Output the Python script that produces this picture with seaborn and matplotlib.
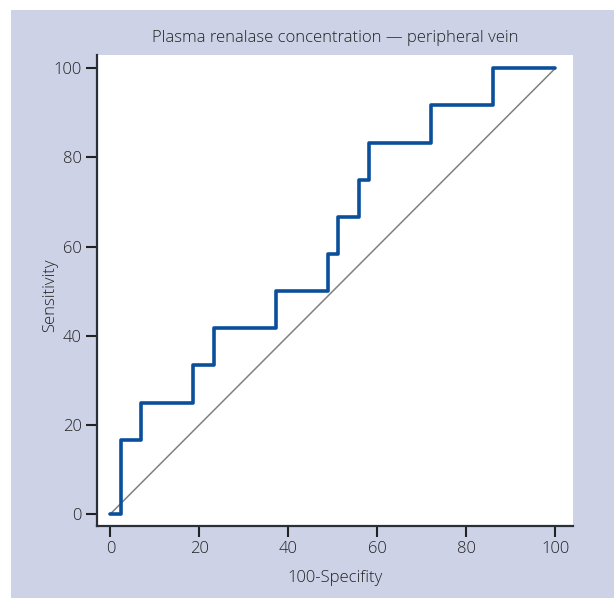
import matplotlib
matplotlib.use("Agg")
import matplotlib.pyplot as plt
import seaborn as sns
import pandas as pd
from matplotlib.patches import Rectangle

# Data (ROC curve step points, in %)
fpr = [0, 2.33, 2.33, 6.98, 6.98, 18.6, 18.6, 23.26, 23.26, 37.2, 37.2, 48.84, 48.84,
       51.16, 51.16, 55.81, 55.81, 58.14, 58.14, 72.09, 72.09, 86.05, 86.05, 100]
tpr = [0, 0, 16.67, 16.67, 25.0, 25.0, 33.33, 33.33, 41.67, 41.67, 50.0, 50.0, 58.33,
       58.33, 66.67, 66.67, 75.0, 75.0, 83.33, 83.33, 91.67, 91.67, 100, 100]
diag_x = [0, 100]
diag_y = [0, 100]
xticks = [0, 20, 40, 60, 80, 100]
yticks = [0, 20, 40, 60, 80, 100]
title = "Plasma renalase concentration \u2014 peripheral vein"
xlabel = "100-Specifity"
ylabel = "Sensitivity"

sns.set_style("ticks")
plt.rcParams['font.family'] = ['Open Sans', 'DejaVu Sans']
plt.rcParams['font.weight'] = 'light'
plt.rcParams['axes.labelweight'] = 'light'

fig = plt.figure(figsize=(6.14, 5.98), dpi=100)
fig.patch.set_facecolor("white")
bg = "#cdd2e6"
fig.patches.append(Rectangle((11/614, 0), 1 - 11/614, 1 - 10/598, transform=fig.transFigure,
                             facecolor=bg, edgecolor="none", zorder=-10))

ax = fig.add_axes([97/614, 1 - 526/598, (573 - 97)/614, (526 - 55)/598])
ax.set_facecolor("white")

df_roc = pd.DataFrame({"x": fpr, "y": tpr})
df_diag = pd.DataFrame({"x": diag_x, "y": diag_y})
sns.lineplot(data=df_diag, x="x", y="y", ax=ax, color="#808080", lw=1.1,
             sort=False, estimator=None, errorbar=None)
sns.lineplot(data=df_roc, x="x", y="y", ax=ax, color="#0b4f9c", lw=2.6,
             sort=False, estimator=None, errorbar=None)

ax.set_xlim(-3, 104)
ax.set_ylim(-2.7, 103)
ax.set_xticks(xticks)
ax.set_yticks(yticks)
txtc = "#222222"
ax.tick_params(axis="both", direction="out", length=8, width=1.5, color="#222222",
               labelsize=12, labelcolor=txtc, pad=3)
for s in ["top", "right"]:
    ax.spines[s].set_visible(False)
for s in ["left", "bottom"]:
    ax.spines[s].set_color("#2b2f3a")
    ax.spines[s].set_linewidth(1.6)

ax.set_xlabel(xlabel, fontsize=12, color=txtc)
ax.set_ylabel(ylabel, fontsize=12, color=txtc)
ax.xaxis.set_label_coords(0.5, (526 - 578) / 471)
ax.xaxis.label.set_va("center")
ax.yaxis.set_label_coords((50 - 97) / 476, 0.49)
ax.yaxis.label.set_va("center")
fig.text((97 + 573) / 2 / 614, 1 - 38/598, title, ha="center", va="center",
         fontsize=12, color=txtc)

fig.savefig("out.png", dpi=100, facecolor=fig.get_facecolor())
